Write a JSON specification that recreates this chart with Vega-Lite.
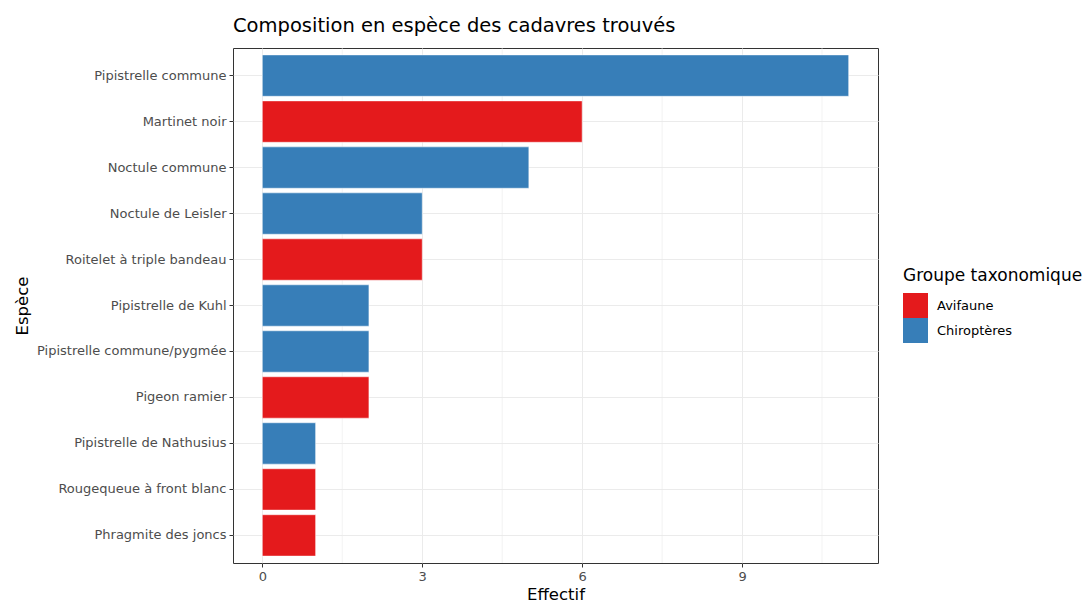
{
  "$schema": "https://vega.github.io/schema/vega-lite/v6.json",
  "width": 645,
  "height": 515,
  "autosize": {"type": "none"},
  "padding": {"left": 233, "top": 48, "right": 206, "bottom": 43},
  "background": "white",
  "title": {
    "text": "Composition en espèce des cadavres trouvés",
    "anchor": "start",
    "frame": "group",
    "font": "DejaVu Sans",
    "fontSize": 19.5,
    "fontWeight": "normal",
    "color": "black",
    "offset": 11
  },
  "data": {
    "values": [
      {"espece": "Pipistrelle commune", "effectif": 11, "groupe": "Chiroptères"},
      {"espece": "Martinet noir", "effectif": 6, "groupe": "Avifaune"},
      {"espece": "Noctule commune", "effectif": 5, "groupe": "Chiroptères"},
      {"espece": "Noctule de Leisler", "effectif": 3, "groupe": "Chiroptères"},
      {"espece": "Roitelet à triple bandeau", "effectif": 3, "groupe": "Avifaune"},
      {"espece": "Pipistrelle de Kuhl", "effectif": 2, "groupe": "Chiroptères"},
      {"espece": "Pipistrelle commune/pygmée", "effectif": 2, "groupe": "Chiroptères"},
      {"espece": "Pigeon ramier", "effectif": 2, "groupe": "Avifaune"},
      {"espece": "Pipistrelle de Nathusius", "effectif": 1, "groupe": "Chiroptères"},
      {"espece": "Rougequeue à front blanc", "effectif": 1, "groupe": "Avifaune"},
      {"espece": "Phragmite des joncs", "effectif": 1, "groupe": "Avifaune"}
    ]
  },
  "config": {
    "view": {"stroke": "#333333", "strokeWidth": 1},
    "font": "DejaVu Sans",
    "axis": {
      "gridColor": "#EBEBEB",
      "gridWidth": 1,
      "tickColor": "#333333",
      "tickSize": 4,
      "labelColor": "#4D4D4D",
      "labelFont": "DejaVu Sans",
      "labelFontSize": 13,
      "labelLimit": 400,
      "titleFont": "DejaVu Sans",
      "titleFontSize": 16.5,
      "titleFontWeight": "normal",
      "titleColor": "black",
      "domain": false
    }
  },
  "layer": [
    {
      "mark": {"type": "rule", "color": "#EBEBEB", "strokeWidth": 0.6},
      "data": {"values": [{"v": 1.5}, {"v": 4.5}, {"v": 7.5}, {"v": 10.5}]},
      "encoding": {
        "x": {"field": "v", "type": "quantitative", "scale": {"domain": [-0.55, 11.55], "nice": false, "zero": false}}
      }
    },
    {
      "mark": {"type": "bar", "stroke": "white", "strokeWidth": 0.5},
      "encoding": {
        "y": {
          "field": "espece",
          "type": "nominal",
          "sort": null,
          "scale": {"paddingInner": 0.1, "paddingOuter": 0.15},
          "axis": {"title": "Espèce", "labelPadding": 3, "titlePadding": 6, "grid": true, "gridColor": "#EBEBEB"}
        },
        "x": {
          "field": "effectif",
          "type": "quantitative",
          "scale": {"domain": [-0.55, 11.55], "nice": false, "zero": false},
          "axis": {"title": "Effectif", "values": [0, 3, 6, 9], "labelPadding": 3, "titlePadding": 3, "grid": true}
        },
        "x2": {"datum": 0},
        "color": {
          "field": "groupe",
          "type": "nominal",
          "scale": {"domain": ["Avifaune", "Chiroptères"], "range": ["#E41A1C", "#377EB8"]},
          "legend": {
            "title": "Groupe taxonomique",
            "orient": "none",
            "legendX": 670,
            "legendY": 220,
            "titleFont": "DejaVu Sans",
            "titleFontSize": 17,
            "titleFontWeight": "normal",
            "titleColor": "black",
            "titlePadding": 8,
            "titleLimit": 300,
            "labelFont": "DejaVu Sans",
            "labelFontSize": 13,
            "labelColor": "black",
            "symbolType": "square",
            "symbolSize": 625,
            "symbolStrokeWidth": 0,
            "rowPadding": 0,
            "labelOffset": 9
          }
        }
      }
    }
  ]
}
